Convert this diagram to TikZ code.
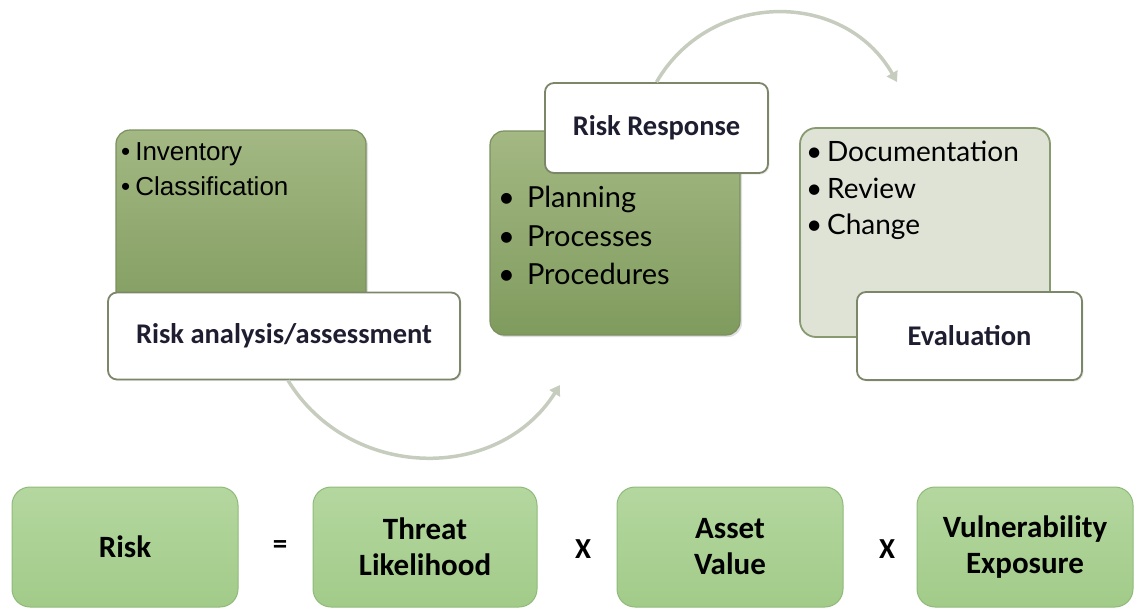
\documentclass[tikz,border=0pt]{standalone}
\usepackage{fontspec}
\setmainfont{Carlito}
\newfontfamily\arialfont{Liberation Sans}
\newfontfamily\gillfont{Lato}
\usetikzlibrary{arrows.meta,shadows}

\definecolor{oliveTop}{HTML}{A3B883}
\definecolor{oliveBot}{HTML}{809B5E}
\definecolor{oliveEdge}{HTML}{7A9060}
\definecolor{paleFill}{HTML}{DEE3D6}
\definecolor{paleEdge}{HTML}{889A70}
\definecolor{labelEdge}{HTML}{7C876A}
\definecolor{labelText}{HTML}{1E1E30}
\definecolor{termTop}{HTML}{B4D79F}
\definecolor{termBot}{HTML}{A2CB89}
\definecolor{termEdge}{HTML}{8FBA79}
\definecolor{arcGray}{HTML}{C6CDBE}

\begin{document}
\begin{tikzpicture}[x=1pt, y=-1pt, % pixel units, y downwards
    stagebox/.style={draw=oliveEdge, line width=1.2pt, rounded corners=14pt,
      top color=oliveTop, bottom color=oliveBot, inner sep=0pt,
      drop shadow={opacity=0.25, shadow xshift=2pt, shadow yshift=-2pt}},
    palebox/.style={draw=paleEdge, line width=1.8pt, rounded corners=16pt,
      fill=paleFill, inner sep=0pt},
    labelbox/.style={draw=labelEdge, line width=1.8pt, rounded corners=9pt,
      fill=white, text=labelText, inner sep=0pt,
      font=\bfseries\fontsize{28.5}{32}\selectfont,
      drop shadow={opacity=0.15, shadow xshift=1.5pt, shadow yshift=-1.5pt}},
    termbox/.style={draw=termEdge, line width=1pt, rounded corners=18pt,
      top color=termTop, bottom color=termBot, align=center, inner sep=0pt,
      minimum height=120pt, font=\bfseries\fontsize{31}{36}\selectfont},
    opsign/.style={font=\bfseries\fontsize{29}{32}\selectfont},
    cyclearc/.style={draw=arcGray, line width=3.5pt,
      -{Triangle[length=10pt, width=12pt]}}]

    \useasboundingbox (0,0) rectangle (1135,608);

    % Stage 1
    \node[stagebox, minimum width=250pt, minimum height=200pt] (boxA) at (241,230) {};
    \node[anchor=north west, align=left, inner sep=0pt,
      font=\arialfont\fontsize{26}{35}\selectfont] (listA) at (121,142)
      {\textbullet\hspace{5pt}Inventory\\\textbullet\hspace{5pt}Classification};
    \node[labelbox, minimum width=352pt, minimum height=87pt] (riskAna) at (284,336)
      {Risk analysis/assessment};

    % Stage 2
    \node[stagebox, minimum width=250pt, minimum height=204pt] (boxB) at (615,233) {};
    \node[anchor=north west, align=left, inner sep=0pt,
      font=\gillfont\fontsize{29}{38.5}\selectfont] (listB) at (498,186)
      {\textbullet\hspace{12pt}Planning\\\textbullet\hspace{12pt}Processes\\\textbullet\hspace{12pt}Procedures};
    \node[labelbox, minimum width=223pt, minimum height=90pt] (riskResp) at (656.5,128)
      {Risk Response};

    % Stage 3
    \node[palebox, minimum width=250pt, minimum height=209pt] (boxC) at (925,232.5) {};
    \node[anchor=north west, align=left, inner sep=0pt,
      font=\gillfont\fontsize{28}{36.5}\selectfont] (listC) at (806,141)
      {\textbullet\,Documentation\\\textbullet\,Review\\\textbullet\,Change};
    \node[labelbox, minimum width=225pt, minimum height=88pt] (evalBox) at (969.5,336)
      {Evaluation};

    % Cycle arrows
    \coordinate (respTip) at (560,385);
    \coordinate (evalTip) at (897,82);
    \draw[cyclearc] ([xshift=4pt]riskAna.south) .. controls (349,480) and (497,484) .. (respTip);
    \draw[cyclearc] (riskResp.north) .. controls (710,-10) and (844,-11) .. (evalTip);

    % Risk formula
    \node[termbox, minimum width=226pt] (riskTerm) at (125,547) {Risk};
    \node[opsign] (eqSign) at (280,547) {=};
    \node[termbox, minimum width=224pt] (threatTerm) at (425,547) {Threat\\Likelihood};
    \node[opsign] (timesA) at (583,549) {X};
    \node[termbox, minimum width=226pt] (assetTerm) at (730,547) {Asset\\Value};
    \node[opsign] (timesB) at (887,549) {X};
    \node[termbox, minimum width=216pt] (vulnTerm) at (1025,547) {Vulnerability\\Exposure};
\end{tikzpicture}
\end{document}
